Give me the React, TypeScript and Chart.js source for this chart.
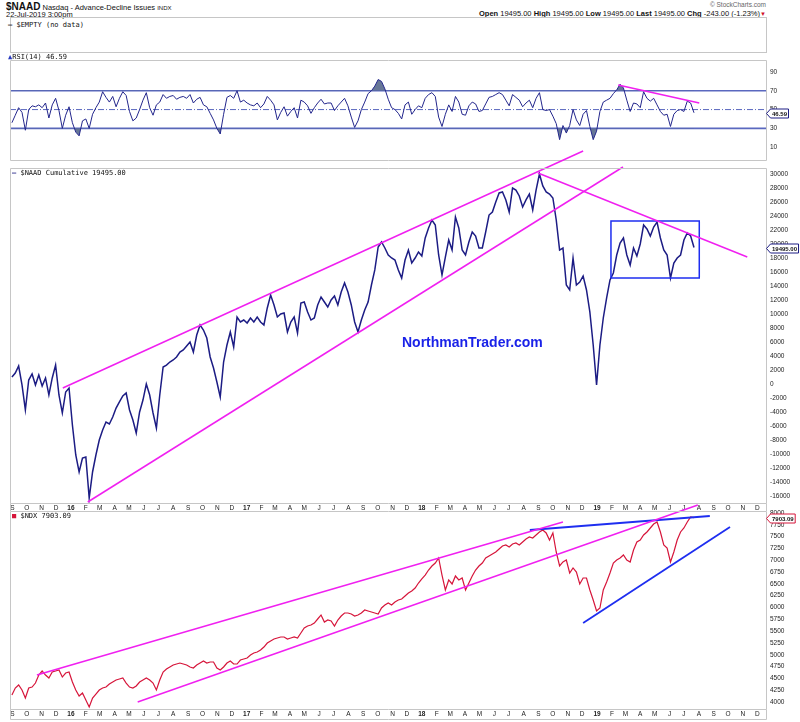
import React, { useEffect, useRef } from 'react';
import { Chart, registerables } from 'chart.js';

Chart.register(...registerables);

const FONT = "'Liberation Sans', Arial, sans-serif";
const MONO = "'DejaVu Sans Mono', 'Liberation Mono', monospace";
const DAY_MS = 86400000;

// ---- time axis ----
const SERIES_START = '2015-08-31';
const STEP_DAYS = 7;
const AXIS_START = '2015-08-27';
const AXIS_END = '2019-12-19';
const monthLetters = ['J', 'F', 'M', 'A', 'M', 'J', 'J', 'A', 'S', 'O', 'N', 'D'];

// ---- tick labels ----
const naadTicks = [-16000, -14000, -12000, -10000, -8000, -6000, -4000, -2000, 0, 2000, 4000, 6000, 8000, 10000, 12000, 14000, 16000, 18000, 20000, 22000, 24000, 26000, 28000, 30000];
const ndxTicks = [4000, 4250, 4500, 4750, 5000, 5250, 5500, 5750, 6000, 6250, 6500, 6750, 7000, 7250, 7500, 7750, 8000];
const rsiTicks = [10, 30, 50, 70, 90];
const rsiOverbought = 70;
const rsiMiddle = 50;
const rsiOversold = 30;

const naadRange = { min: -17000, max: 30857 };
const ndxRange = { min: 3851, max: 8042 };
const rsiRange = { min: -3.8, max: 102.9 };

// ---- series (weekly readings) ----
const naadValues = [
  1000, 1570, 2570, -140, -3710, 570, 1430, -140, 1290, -290,
  860, -1570, 860, 2710, -1570, -4140, -1140, -570, -5860, -10140,
  -12570, -10570, -10430, -16290, -12570, -10140, -8000, -6570, -5430, -5710,
  -4710, -3430, -2570, -1710, -1290, -3710, -5140, -7000, -4000, -2290,
  0, -1570, -4140, -6290, -1570, 2430, 2710, 3140, 3430, 3860,
  4570, 4860, 5430, 6000, 4570, 7000, 8430, 7710, 6570, 3860,
  2290, 290, -1860, 3140, 5570, 7430, 5290, 9570, 8860, 9140,
  8710, 9430, 8860, 9570, 8860, 8430, 10860, 12710, 11290, 9570,
  10000, 10140, 7430, 8860, 9570, 7290, 11570, 11710, 10290, 9140,
  9430, 11290, 12430, 11710, 11000, 12000, 12570, 11290, 13140, 14430,
  13140, 11290, 8860, 7430, 9140, 10570, 11710, 14140, 16290, 19570,
  20290, 19430, 18430, 18000, 17710, 16290, 15140, 17710, 19140, 17290,
  18000, 18860, 18290, 20860, 22290, 23430, 22710, 18430, 15570, 18140,
  20570, 19140, 23860, 22290, 19140, 18430, 20290, 21710, 21140, 19430,
  19430, 21710, 24140, 24570, 26000, 27290, 27430, 26290, 24570, 28000,
  27710, 26860, 25290, 26290, 27140, 24860, 27710, 30000, 28290, 27430,
  27140, 26570, 23430, 19140, 19430, 14140, 13430, 18000, 14140, 14570,
  15430, 13430, 10290, 5570, -140, 5570, 9430, 12290, 14860, 15860,
  18430, 20140, 20860, 18430, 17000, 19430, 18290, 20000, 22710, 22140,
  21140, 22430, 23140, 20860, 19140, 18430, 15140, 17290, 18000, 18430,
  20570, 21570, 21140, 19495,
];

const rsiValues = [
  36, 44, 52, 47, 28, 50, 54, 53, 55, 52,
  57, 41, 55, 62, 49, 30, 44, 53, 36, 26,
  22, 38, 40, 30, 45, 52, 58, 69, 63, 58,
  64, 53, 62, 69, 65, 48, 38, 41, 50, 60,
  68, 52, 44, 55, 58, 66, 62, 64, 65, 61,
  63, 64, 62, 66, 57, 61, 63, 55, 53, 46,
  39, 30, 24, 45, 63, 65, 62, 70, 58, 60,
  57, 55, 54, 57, 52, 56, 64, 60, 55, 39,
  47, 53, 43, 48, 52, 41, 60, 58, 54, 46,
  52, 57, 61, 56, 57, 57, 49, 54, 58, 62,
  54, 42, 31, 38, 50, 58, 67, 70, 75, 82,
  80, 72, 61, 52, 50, 46, 40, 55, 58, 45,
  50, 54, 52, 62, 66, 68, 64, 42, 32, 45,
  55, 48, 64, 58, 45, 44, 54, 58, 56, 48,
  49, 56, 63, 64, 66, 68, 66, 60, 54, 66,
  63, 60, 53, 57, 60, 52, 62, 68, 50, 49,
  50, 43, 35, 18, 33, 25, 33, 50, 39, 33,
  45, 49, 32, 18, 27, 48, 58, 60, 62, 67,
  71, 77, 73, 60, 48, 57, 56, 52, 69, 62,
  59, 62, 55, 48, 44, 45, 32, 45, 49, 50,
  48, 59, 57, 46.59,
];

const ndxValues = [
  4147, 4295, 4359, 4253, 4084, 4295, 4316, 4401, 4570, 4655,
  4570, 4507, 4634, 4655, 4676, 4528, 4613, 4634, 4422, 4253,
  4126, 4189, 4041, 3893, 4084, 4168, 4253, 4295, 4316, 4380,
  4422, 4465, 4486, 4507, 4401, 4316, 4295, 4338, 4422, 4465,
  4507, 4465, 4401, 4253, 4465, 4634, 4697, 4740, 4782, 4803,
  4824, 4803, 4782, 4740, 4719, 4782, 4824, 4867, 4824, 4846,
  4846, 4719, 4676, 4740, 4824, 4867, 4803, 4803, 4888, 4909,
  4930, 4994, 5036, 5057, 5100, 5163, 5248, 5290, 5333, 5354,
  5375, 5375, 5333, 5354, 5375, 5354, 5460, 5565, 5608, 5629,
  5671, 5756, 5841, 5692, 5735, 5714, 5608, 5735, 5819, 5883,
  5883, 5862, 5819, 5841, 5883, 5947, 5925, 5904, 5883, 5862,
  5989, 6052, 6095, 6052, 6116, 6158, 6179, 6243, 6306, 6349,
  6412, 6518, 6603, 6687, 6793, 6878, 6941, 7047, 6687, 6370,
  6582, 6497, 6666, 6582, 6624, 6370, 6518, 6666, 6793, 6878,
  6941, 7047, 7090, 7132, 7174, 7238, 7301, 7323, 7280, 7344,
  7365, 7323, 7386, 7450, 7492, 7471, 7534, 7598, 7640, 7577,
  7428, 7577, 7174, 6878, 6963, 7005, 6730, 6836, 6751, 6497,
  6624, 6624, 6370, 6158, 5925, 5989, 6370, 6539, 6730, 6941,
  7005, 7047, 7111, 7005, 6963, 7217, 7386, 7428, 7534, 7598,
  7682, 7767, 7809, 7598, 7323, 7259, 6963, 7174, 7428, 7598,
  7682, 7809, 7915, 7903.09,
];

// ---- annotations (date, value) ----
const naadUpperChannel: [string, number][] = [['2015-12-15', -571], ['2018-12-03', 33286]];
const naadLowerChannel: [string, number][] = [['2016-02-05', -16857], ['2019-02-24', 31000]];
const naadDownTrend: [string, number][] = [['2018-08-31', 30143], ['2019-11-10', 18143]];
const naadRangeBox: [string, number][] = [['2019-01-30', 15143], ['2019-01-30', 23286], ['2019-08-02', 23286], ['2019-08-02', 15143], ['2019-01-30', 15143]];
const rsiDownTrend: [string, number][] = [['2019-02-14', 76.2], ['2019-08-02', 56.9]];
const ndxUpperChannel: [string, number][] = [['2015-10-22', 4570], ['2018-10-22', 7809]];
const ndxLowerChannel: [string, number][] = [['2016-05-19', 3999], ['2019-07-30', 8169]];
const ndxResistance: [string, number][] = [['2018-08-14', 7640], ['2019-08-24', 7936]];
const ndxSupport: [string, number][] = [['2018-12-03', 5671], ['2019-10-05', 7704]];

const lastNaad = '19495.00';
const lastRsi = '46.59';
const lastNdx = '7903.09';

// ---- colors ----
const NAVY = '#1c1c84';
const PINK = '#f020f0';
const BLUE = '#1e2ef0';
const RED = '#d6153a';
const RSI_LINE = '#5a68bf';
const RSI_FILL = 'rgba(86,104,140,0.9)';
const FRAME = '#c6c6c6';

const X_MIN = Date.parse(AXIS_START);
const X_MAX = Date.parse(AXIS_END);

function seriesPoints(values: number[]) {
  const start = Date.parse(SERIES_START);
  return values.map((v, i) => ({ x: start + i * STEP_DAYS * DAY_MS, y: v }));
}
function segPoints(line: [string, number][]) {
  return line.map(([d, v]) => ({ x: Date.parse(d), y: v }));
}
function monthTicks() {
  const out: number[] = [];
  for (let y = 2015; y <= 2019; y++) {
    for (let m = 0; m < 12; m++) {
      const t = Date.UTC(y, m, 1);
      if (t >= X_MIN && t <= X_MAX) out.push(t);
    }
  }
  return out;
}

function xScale(show: boolean, h: number) {
  return {
    type: 'linear',
    min: X_MIN,
    max: X_MAX,
    display: show,
    afterBuildTicks: (s: any) => { s.ticks = monthTicks().map((value) => ({ value })); },
    afterFit: (s: any) => { s.height = h; },
    grid: { display: false, drawTicks: false },
    border: { display: false },
    ticks: {
      autoSkip: false,
      maxRotation: 0,
      minRotation: 0,
      padding: 1,
      color: '#222',
      font: (c: any) => ({
        family: FONT,
        size: 6.5,
        weight: c.tick && new Date(c.tick.value).getUTCMonth() === 0 ? 'bold' : 'normal',
      }),
      callback: (v: any) => {
        const d = new Date(v);
        return d.getUTCMonth() === 0 ? String(d.getUTCFullYear()).slice(2) : monthLetters[d.getUTCMonth()];
      },
    },
  };
}

function yScale(range: { min: number; max: number }, ticks: number[]) {
  return {
    position: 'right',
    min: range.min,
    max: range.max,
    afterBuildTicks: (s: any) => { s.ticks = ticks.map((value) => ({ value })); },
    afterFit: (s: any) => { s.width = 34; },
    grid: { display: false, drawTicks: false },
    border: { display: false },
    ticks: {
      autoSkip: false,
      padding: 4,
      color: '#222',
      font: { family: FONT, size: 6.5 },
      callback: (v: any) => String(v),
    },
  };
}

function framePlugin(strip: number) {
  return {
    id: 'frame',
    afterDraw(chart: any) {
      const { ctx, chartArea: a } = chart;
      ctx.save();
      ctx.strokeStyle = FRAME;
      ctx.lineWidth = 1;
      ctx.beginPath();
      const l = Math.round(a.left) + 0.5;
      const r = Math.round(a.right) + 0.5;
      const t = Math.round(a.top) + 0.5;
      const b = Math.round(a.bottom) + 0.5;
      ctx.rect(l, t, r - l, b - t);
      if (strip > 0) {
        ctx.moveTo(l, b);
        ctx.lineTo(l, b + strip);
        ctx.moveTo(r, b);
        ctx.lineTo(r, b + strip);
        ctx.moveTo(l, b + strip);
        ctx.lineTo(r, b + strip);
      }
      ctx.stroke();
      ctx.restore();
    },
  };
}

function tagPlugin(value: number, text: string, color: string) {
  return {
    id: 'tag',
    afterDraw(chart: any) {
      const { ctx, chartArea: a } = chart;
      const y = Math.round(chart.scales.y.getPixelForValue(value)) + 0.5;
      const x0 = a.right + 0.5;
      ctx.save();
      ctx.font = `bold 6px ${FONT}`;
      const w = ctx.measureText(text).width + 3;
      const h = 9;
      ctx.beginPath();
      ctx.moveTo(x0, y);
      ctx.lineTo(x0 + 4, y - h / 2);
      ctx.lineTo(x0 + 4 + w, y - h / 2);
      ctx.lineTo(x0 + 4 + w, y + h / 2);
      ctx.lineTo(x0 + 4, y + h / 2);
      ctx.closePath();
      ctx.fillStyle = '#fff';
      ctx.fill();
      ctx.strokeStyle = color;
      ctx.lineWidth = 1;
      ctx.stroke();
      ctx.fillStyle = '#111';
      ctx.textBaseline = 'middle';
      ctx.fillText(text, x0 + 5.5, y + 0.5);
      ctx.restore();
    },
  };
}

function lineDs(data: any[], color: string, width: number, extra: any = {}) {
  return {
    data,
    borderColor: color,
    borderWidth: width,
    pointRadius: 0,
    tension: 0,
    fill: false,
    ...extra,
  };
}

const baseOptions = {
  responsive: false,
  animation: false,
  devicePixelRatio: 1,
  events: [],
  plugins: { legend: { display: false }, tooltip: { enabled: false } },
};

function rsiConfig(): any {
  const data = seriesPoints(rsiValues);
  const level = (v: number) => [{ x: X_MIN, y: v }, { x: X_MAX, y: v }];
  return {
    type: 'line',
    data: {
      datasets: [
        lineDs(segPoints(rsiDownTrend), PINK, 1.5, { clip: false }),
        lineDs(data, '#23268c', 1, {
          fill: { target: { value: rsiOverbought }, above: RSI_FILL, below: 'rgba(0,0,0,0)' },
        }),
        lineDs(data, 'rgba(0,0,0,0)', 1, {
          fill: { target: { value: rsiOversold }, above: 'rgba(0,0,0,0)', below: RSI_FILL },
        }),
        lineDs(level(rsiOverbought), RSI_LINE, 1.6),
        lineDs(level(rsiOversold), RSI_LINE, 1.6),
        lineDs(level(rsiMiddle), RSI_LINE, 1, { borderDash: [6, 2, 1, 2] }),
      ],
    },
    options: {
      ...baseOptions,
      layout: { padding: { left: 10, right: 0, top: 0, bottom: 0 } },
      scales: { x: xScale(false, 0), y: yScale(rsiRange, rsiTicks) },
    },
    plugins: [framePlugin(0), tagPlugin(46.59, lastRsi, NAVY)],
  };
}

function mainConfig(): any {
  return {
    type: 'line',
    data: {
      datasets: [
        lineDs(segPoints(naadUpperChannel), PINK, 1.5, { clip: false }),
        lineDs(segPoints(naadLowerChannel), PINK, 1.5, { clip: false }),
        lineDs(segPoints(naadDownTrend), PINK, 1.5, { clip: false }),
        lineDs(segPoints(naadRangeBox), BLUE, 1.5, { clip: false }),
        lineDs(seriesPoints(naadValues), NAVY, 1.5),
      ],
    },
    options: {
      ...baseOptions,
      layout: { padding: { left: 10, right: 0, top: 116, bottom: 0 } },
      scales: { x: xScale(true, 8), y: yScale(naadRange, naadTicks) },
    },
    plugins: [framePlugin(8), tagPlugin(19495, lastNaad, NAVY)],
  };
}

function ndxConfig(): any {
  return {
    type: 'line',
    data: {
      datasets: [
        lineDs(segPoints(ndxUpperChannel), PINK, 1.5, { clip: false }),
        lineDs(segPoints(ndxLowerChannel), PINK, 1.5, { clip: false }),
        lineDs(segPoints(ndxResistance), BLUE, 1.8, { clip: false }),
        lineDs(segPoints(ndxSupport), BLUE, 1.8, { clip: false }),
        lineDs(seriesPoints(ndxValues), RED, 1.2),
      ],
    },
    options: {
      ...baseOptions,
      layout: { padding: { left: 10, right: 0, top: 11, bottom: 3 } },
      scales: { x: xScale(true, 10), y: yScale(ndxRange, ndxTicks) },
    },
    plugins: [framePlugin(10), tagPlugin(7903.09, lastNdx, RED)],
  };
}

const abs = (left: number, top: number, extra: any = {}) => ({
  position: 'absolute' as const,
  left,
  top,
  whiteSpace: 'nowrap' as const,
  ...extra,
});

export default function App() {
  const rsiRef = useRef<HTMLCanvasElement>(null);
  const mainRef = useRef<HTMLCanvasElement>(null);
  const ndxRef = useRef<HTMLCanvasElement>(null);

  useEffect(() => {
    const charts = [
      new Chart(rsiRef.current as HTMLCanvasElement, rsiConfig()),
      new Chart(mainRef.current as HTMLCanvasElement, mainConfig()),
      new Chart(ndxRef.current as HTMLCanvasElement, ndxConfig()),
    ];
    return () => charts.forEach((c) => c.destroy());
  }, []);

  const label = { fontFamily: MONO, fontSize: 7, lineHeight: '9px', color: '#111' };

  return (
    <div style={{ position: 'absolute', left: 0, top: 0, width: 800, height: 722, background: '#fff', overflow: 'hidden', fontFamily: FONT, color: '#111' }}>
      <div style={abs(6, 1, { fontSize: 7.5, lineHeight: '11px' })}>
        <b style={{ fontSize: 10 }}>$NAAD</b> Nasdaq - Advance-Decline Issues <span style={{ fontSize: 6 }}>INDX</span>
      </div>
      <div style={abs(6, 11, { fontSize: 7.5, lineHeight: '8px' })}>22-Jul-2019 3:00pm</div>
      <div style={{ position: 'absolute', right: 34, top: 1, fontSize: 6.5, lineHeight: '8px', color: '#666', whiteSpace: 'nowrap' }}>© StockCharts.com</div>
      <div style={{ position: 'absolute', right: 34, top: 9, fontSize: 7.5, lineHeight: '9px', whiteSpace: 'nowrap' }}>
        <b>Open</b> 19495.00 <b>High</b> 19495.00 <b>Low</b> 19495.00 <b>Last</b> 19495.00 <b>Chg</b> -243.00 (-1.23%)<span style={{ color: '#d0102a', fontSize: 6 }}>▼</span>
      </div>
      <div style={{ position: 'absolute', left: 10, top: 17, width: 757, height: 36, border: `1px solid ${FRAME}`, boxSizing: 'border-box' }} />

      <canvas ref={rsiRef} width={800} height={116} style={{ position: 'absolute', left: 0, top: 52 }} />
      <canvas ref={mainRef} width={800} height={459} style={{ position: 'absolute', left: 0, top: 52 }} />
      <canvas ref={ndxRef} width={800} height={222} style={{ position: 'absolute', left: 0, top: 500 }} />

      <div style={abs(8, 21, label)}><span style={{ fontWeight: 'bold' }}>—</span> $EMPTY (no data)</div>
      <div style={abs(8, 53, label)}><span style={{ color: '#2a3cc0', fontWeight: 'bold' }}>▲</span>RSI(14) 46.59</div>
      <div style={abs(12, 169, label)}><span style={{ color: NAVY, fontWeight: 'bold' }}>—</span> $NAAD Cumulative 19495.00</div>
      <div style={abs(12, 512, label)}><span style={{ color: RED, fontWeight: 'bold' }}>■</span> $NDX 7903.09</div>

      <div style={abs(402, 335, { fontSize: 14, lineHeight: '14px', fontWeight: 'bold', color: '#1a22e8' })}>NorthmanTrader.com</div>
    </div>
  );
}
